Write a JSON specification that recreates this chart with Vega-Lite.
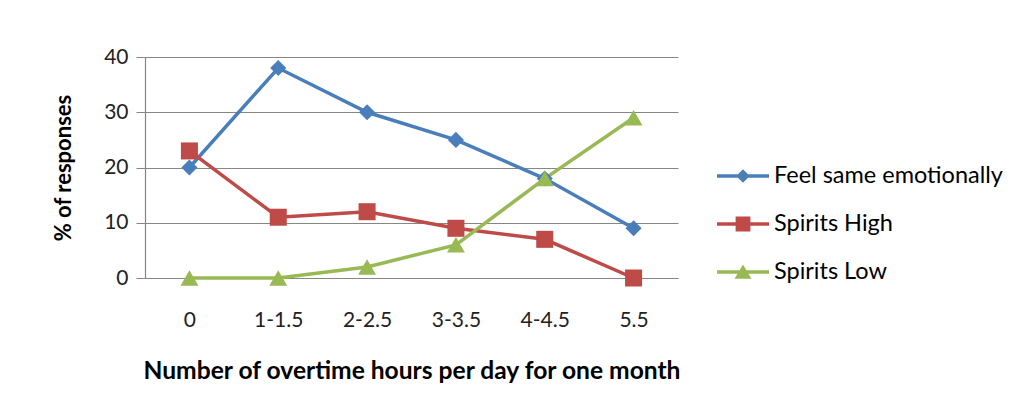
{
  "$schema": "https://vega.github.io/schema/vega-lite/v6.json",
  "width": 533,
  "height": 221,
  "autosize": {"type": "none"},
  "padding": {"left": 145, "top": 57, "right": 345, "bottom": 133},
  "background": "white",
  "config": {
    "font": "Lato",
    "view": {"stroke": null}
  },
  "data": {
    "values": [
      {"hours": "0", "series": "Feel same emotionally", "value": 20},
      {"hours": "1-1.5", "series": "Feel same emotionally", "value": 38},
      {"hours": "2-2.5", "series": "Feel same emotionally", "value": 30},
      {"hours": "3-3.5", "series": "Feel same emotionally", "value": 25},
      {"hours": "4-4.5", "series": "Feel same emotionally", "value": 18},
      {"hours": "5.5", "series": "Feel same emotionally", "value": 9},
      {"hours": "0", "series": "Spirits High", "value": 23},
      {"hours": "1-1.5", "series": "Spirits High", "value": 11},
      {"hours": "2-2.5", "series": "Spirits High", "value": 12},
      {"hours": "3-3.5", "series": "Spirits High", "value": 9},
      {"hours": "4-4.5", "series": "Spirits High", "value": 7},
      {"hours": "5.5", "series": "Spirits High", "value": 0},
      {"hours": "0", "series": "Spirits Low", "value": 0},
      {"hours": "1-1.5", "series": "Spirits Low", "value": 0},
      {"hours": "2-2.5", "series": "Spirits Low", "value": 2},
      {"hours": "3-3.5", "series": "Spirits Low", "value": 6},
      {"hours": "4-4.5", "series": "Spirits Low", "value": 18},
      {"hours": "5.5", "series": "Spirits Low", "value": 29}
    ]
  },
  "encoding": {
    "x": {
      "field": "hours",
      "type": "ordinal",
      "sort": ["0", "1-1.5", "2-2.5", "3-3.5", "4-4.5", "5.5"],
      "scale": {"type": "point", "padding": 0.5},
      "axis": {
        "title": "Number of overtime hours per day for one month",
        "titleFont": "Lato",
        "titleFontSize": 24.6,
        "titleFontWeight": "bold",
        "titleColor": "#000000",
        "titlePadding": 29,
        "labelAngle": 0,
        "labelFontSize": 21,
        "labelColor": "#222222",
        "labelPadding": 31,
        "ticks": false,
        "domainColor": "#868686",
        "domainWidth": 1.2,
        "grid": false
      }
    },
    "y": {
      "field": "value",
      "type": "quantitative",
      "scale": {"domain": [0, 40], "nice": false},
      "axis": {
        "title": "% of responses",
        "titleFont": "Lato",
        "titleFontSize": 22,
        "titleFontWeight": "bold",
        "titleColor": "#000000",
        "titlePadding": 28,
        "values": [0, 10, 20, 30, 40],
        "labelFontSize": 21,
        "labelColor": "#222222",
        "labelPadding": 8,
        "tickSize": 9,
        "tickColor": "#868686",
        "domainColor": "#868686",
        "domainWidth": 1.2,
        "gridColor": "#868686",
        "gridWidth": 1.2
      }
    }
  },
  "layer": [
    {
      "mark": {"type": "line", "strokeWidth": 3.5},
      "encoding": {
        "color": {
          "field": "series",
          "type": "nominal",
          "scale": {"domain": ["Feel same emotionally", "Spirits High", "Spirits Low"], "range": ["#4A7EBB", "#BE4B48", "#98B954"]},
          "legend": null
        }
      }
    },
    {
      "mark": {"type": "point", "filled": true, "opacity": 1},
      "encoding": {
        "color": {
          "field": "series",
          "type": "nominal",
          "scale": {"domain": ["Feel same emotionally", "Spirits High", "Spirits Low"], "range": ["#4A7EBB", "#BE4B48", "#98B954"]},
          "legend": null
        },
        "shape": {
          "field": "series",
          "type": "nominal",
          "scale": {"domain": ["Feel same emotionally", "Spirits High", "Spirits Low"], "range": ["diamond", "square", "triangle-up"]},
          "legend": null
        },
        "size": {
          "field": "series",
          "type": "nominal",
          "scale": {"domain": ["Feel same emotionally", "Spirits High", "Spirits Low"], "range": [260, 320, 360]},
          "legend": null
        }
      }
    },
    {
      "mark": {"type": "point", "filled": true, "opacity": 0, "size": 676},
      "encoding": {
        "color": {
          "field": "series",
          "type": "nominal",
          "scale": {"domain": ["Feel same emotionally", "Spirits High", "Spirits Low"], "range": ["#4A7EBB", "#BE4B48", "#98B954"]},
          "legend": {
            "title": null,
            "orient": "none",
            "legendX": 585,
            "legendY": 106,
            "symbolSize": 676,
            "symbolOpacity": 1,
            "symbolStrokeWidth": 0,
            "labelFont": "Lato",
            "labelFontSize": 23.5,
            "labelLimit": 0,
            "labelColor": "#000000",
            "labelOffset": 18,
            "rowPadding": 23,
            "padding": 0
          }
        },
        "shape": {
          "field": "series",
          "type": "nominal",
          "scale": {"domain": ["Feel same emotionally", "Spirits High", "Spirits Low"], "range": [
            "M-2,-0.13H2V0.13H-2Z M0,-0.52L0.52,0L0,0.52L-0.52,0Z",
            "M-2,-0.13H2V0.13H-2Z M-0.57,-0.57H0.57V0.57H-0.57Z",
            "M-2,-0.13H2V0.13H-2Z M0,-0.58L0.65,0.52H-0.65Z"
          ]},
          "legend": {
            "title": null,
            "orient": "none",
            "legendX": 585,
            "legendY": 106,
            "symbolSize": 676,
            "symbolOpacity": 1,
            "symbolStrokeWidth": 0,
            "labelFont": "Lato",
            "labelFontSize": 23.5,
            "labelLimit": 0,
            "labelColor": "#000000",
            "labelOffset": 18,
            "rowPadding": 23,
            "padding": 0
          }
        }
      }
    }
  ],
  "resolve": {"scale": {"color": "independent", "shape": "independent"}}
}
